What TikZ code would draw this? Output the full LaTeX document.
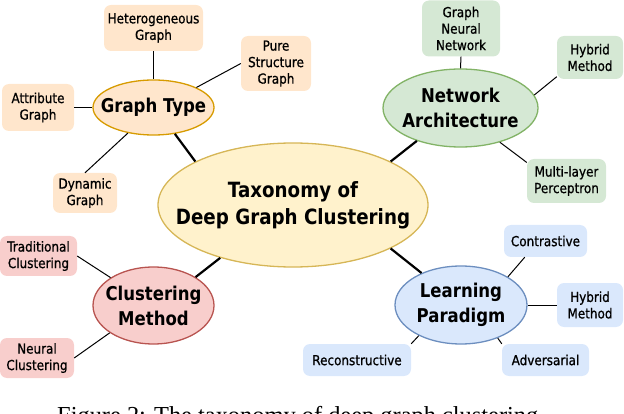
\documentclass[tikz,border=0pt]{standalone}
\usepackage{fontspec}
\setmainfont{DejaVu Sans}[FakeStretch=0.87]
\newfontfamily\leaffont{DejaVu Sans}[FakeStretch=0.87, FakeBold=0.8]
\newfontfamily\capfont{Liberation Serif}
\usetikzlibrary{shapes.geometric}
\definecolor{orF}{HTML}{FFE6CC}\definecolor{orD}{HTML}{D79B00}
\definecolor{yeF}{HTML}{FFF2CC}\definecolor{yeD}{HTML}{D6B656}
\definecolor{grF}{HTML}{D5E8D4}\definecolor{grD}{HTML}{82B366}
\definecolor{reF}{HTML}{F8CECC}\definecolor{reD}{HTML}{B85450}
\definecolor{blF}{HTML}{DAE8FC}\definecolor{blD}{HTML}{6C8EBF}
\tikzset{
  ell/.style={ellipse, line width=1.3pt, inner sep=0pt},
  lbl/.style={align=center, inner sep=0pt, font=\bfseries\fontsize{19}{25}\selectfont},
  biglbl/.style={align=center, inner sep=0pt, font=\bfseries\fontsize{21}{27}\selectfont},
  leaf/.style={rounded corners=7pt, inner sep=0pt, align=center, font=\leaffont\fontsize{13.8}{16.5}\selectfont},
  conn/.style={line width=1pt, black},
  trunk/.style={line width=2.2pt, black},
}
\begin{document}
\begin{tikzpicture}[x=1pt,y=-1pt]
\useasboundingbox (0,0) rectangle (624,414);
\clip (0,0) rectangle (624,414);
% category ellipses
\node[ell, fill=yeF, draw=yeD, minimum width=270pt, minimum height=124pt,
      label={[biglbl]center:{Taxonomy of\\Deep Graph Clustering}}] (cen) at (293,205) {};
\node[ell, fill=orF, draw=orD, minimum width=121pt, minimum height=55pt,
      label={[lbl]center:Graph Type}] (gt) at (153.5,107.5) {};
\node[ell, fill=grF, draw=grD, minimum width=155pt, minimum height=78pt,
      label={[lbl]center:{Network\\Architecture}}] (na) at (460.5,108) {};
\node[ell, fill=reF, draw=reD, minimum width=121pt, minimum height=77pt,
      label={[lbl]center:{Clustering\\Method}}] (cm) at (153.5,305.5) {};
\node[ell, fill=blF, draw=blD, minimum width=132pt, minimum height=78pt,
      label={[lbl]center:{Learning\\Paradigm}}] (lp) at (461,305) {};
% leaves: graph type
\node[leaf, fill=orF, minimum width=99pt, minimum height=46pt] (het) at (153.5,28) {Heterogeneous\\Graph};
\node[leaf, fill=orF, minimum width=70pt, minimum height=55pt] (pure) at (276,63.5) {Pure\\Structure\\Graph};
\node[leaf, fill=orF, minimum width=72pt, minimum height=47pt] (att) at (38,107.5) {Attribute\\Graph};
\node[leaf, fill=orF, minimum width=64pt, minimum height=40pt] (dyn) at (85,193) {Dynamic\\Graph};
% leaves: network architecture
\node[leaf, fill=grF, minimum width=78pt, minimum height=56pt] (gnn) at (461,28.5) {Graph\\Neural\\Network};
\node[leaf, fill=grF, minimum width=66pt, minimum height=43pt] (hyb1) at (590,57.5) {Hybrid\\Method};
\node[leaf, fill=grF, minimum width=79pt, minimum height=44pt] (mlp) at (566.5,181) {Multi-layer\\Perceptron};
% leaves: clustering method
\node[leaf, fill=reF, minimum width=77pt, minimum height=40pt] (trad) at (38.5,256) {Traditional\\Clustering};
\node[leaf, fill=reF, minimum width=74pt, minimum height=40pt] (neu) at (37,358) {Neural\\Clustering};
% leaves: learning paradigm
\node[leaf, fill=blF, minimum width=83pt, minimum height=32pt] (con) at (545.5,241) {Contrastive};
\node[leaf, fill=blF, minimum width=66pt, minimum height=44pt] (hyb2) at (590,305) {Hybrid\\Method};
\node[leaf, fill=blF, minimum width=87pt, minimum height=32pt] (adv) at (545.5,360) {Adversarial};
\node[leaf, fill=blF, minimum width=108pt, minimum height=32pt] (rec) at (357,360) {Reconstructive};
% trunk connectors
\draw[trunk] (gt.-51) -- (cen.156);
\draw[trunk] (na.217) -- (cen.24);
\draw[trunk] (cm.34.5) -- (cen.216.6);
\draw[trunk] (lp.141.5) -- (cen.-24.8);
% leaf connectors
\draw[conn] (het.south) -- (gt.north);
\draw[conn] (pure.west) -- (gt.25);
\draw[conn] (att.east) -- (gt.west);
\draw[conn] (dyn.north) -- (gt.225);
\draw[conn] (gnn.south) -- (na.north);
\draw[conn] (hyb1.210) -- (na.10);
\draw[conn] (mlp.155) -- (na.-41);
\draw[conn] (trad.east) -- (cm.147);
\draw[conn] (neu.east) -- (cm.212);
\draw[conn] (con.218) -- (lp.31);
\draw[conn] (hyb2.west) -- (lp.east);
\draw[conn] (adv.north west) -- (lp.-42);
\draw[conn] (rec.north east) -- (lp.216);
% caption (cut off at the bottom edge, as in the reference)
\node[anchor=base west, inner sep=0pt, font=\capfont\fontsize{24.4}{28}\selectfont] (cap) at (57,423) {Figure 2: The taxonomy of deep graph clustering};
\end{tikzpicture}
\end{document}
